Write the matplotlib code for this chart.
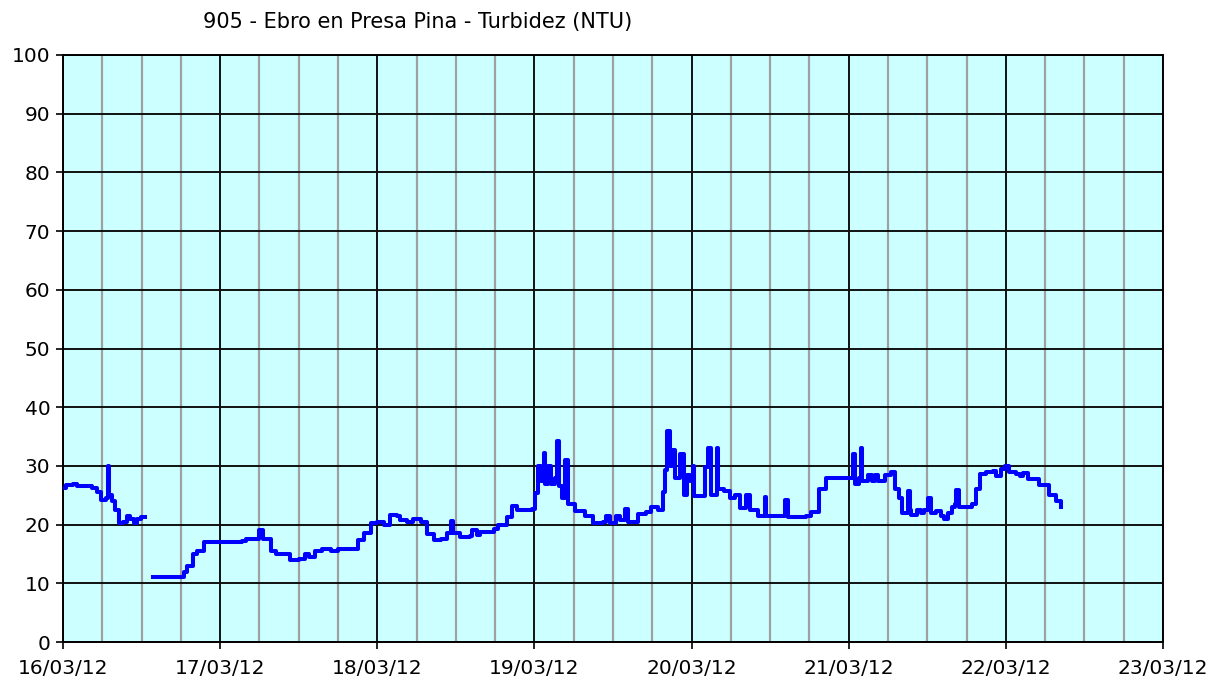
import numpy as np
import pandas as pd
import matplotlib
matplotlib.use("Agg")
import matplotlib.pyplot as plt
import matplotlib.dates as mdates
from matplotlib.ticker import MultipleLocator

title = "905 - Ebro en Presa Pina - Turbidez (NTU)"
start = "2012-03-16"
end = "2012-03-23"

# hours since 16/03/12 00:00 and turbidity (NTU); NaN marks the data gap
hours = [0, 0.5, 1.5, 2.2, 3.5, 4.5, 5.2, 5.8, 6.5, 6.8, 7.0, 7.5, 8.0, 8.5, 9.2, 9.8, 10.3, 10.8, 11.3, 11.9,
         12.5,
         13.7, 18, 18.5, 19, 19.8, 20.5, 21.5, 27.4, 28, 29, 29.9, 30.5, 31.7, 32.5, 34.7, 36, 37, 37.5, 38.5,
         39.5, 40.9, 42, 44, 45, 46, 47, 48, 49, 50, 51, 51.5, 52.5, 53.5, 54.6, 55.6, 56.6, 57.7, 58.7, 59.3,
         59.6, 60.7, 62.2, 62.5, 63.2, 63.7, 65.8, 66.5, 67.3, 67.8, 68.6, 69.3, 71.3, 71.6, 72.1, 72.6, 73.0,
         73.4, 73.6, 74.1, 74.6, 75.1, 75.4, 75.7, 76.2, 76.6, 77.2, 78.2, 79.7, 81, 82.5, 83, 83.5, 84.5, 85,
         85.8, 86.3, 87.8, 89, 89.8, 90.8, 91.6, 92, 92.3, 92.7, 93, 93.5, 94.3, 94.8, 95.3, 95.8, 96.2, 96.4,
         97.6, 98.1, 98.5, 98.9, 99.9, 100.1, 100.9, 101.9, 102.7, 103.4, 104.3, 104.9, 106.2, 107.2, 107.4,
         109.5, 110.3, 110.7, 113.5, 114.2, 115.5, 116.6, 120.1, 120.6, 120.9, 121.5, 121.8, 122, 122.9, 123.5,
         124, 124.5, 125.6, 126.5, 127, 127.7, 128.2, 129, 129.3, 129.5, 130.5, 131, 131.5, 132.1, 132.6, 133.4,
         134.1, 134.6, 135.1, 135.7, 136.2, 136.4, 136.9, 138.9, 139.4, 140, 141, 142, 142.5, 143.3, 143.8,
         144.5, 145.6, 146.2, 146.6, 147.4, 149.1, 150.1, 150.6, 151.6, 152.4]
ntu = [26.3, 26.8, 27, 26.5, 26.6, 26.2, 25.5, 24.2, 24.5, 30, 25, 24, 22.5, 20.3, 20.5, 21.5, 21, 20.2, 21, 21.3,
       np.nan,
       11, 11, 12, 13, 15, 15.5, 17, 17.2, 17.5, 17.5, 19, 17.5, 15.5, 15, 14, 14.2, 15, 14.5, 15.5,
       15.8, 15.5, 15.8, 15.8, 17.3, 18.5, 20.2, 20.5, 20, 21.6, 21.5, 20.7, 20.5, 21, 20.5, 18.4, 17.3, 17.5, 18.5, 20.6,
       18.5, 17.9, 18, 19, 18.2, 18.8, 19.3, 20, 20, 21.3, 23.2, 22.5, 22.5, 22.7, 25.3, 30, 27.5,
       32.2, 27, 30, 27, 28, 34.3, 26.5, 24.5, 31, 23.5, 22.3, 21.5, 20.2, 20.5, 21.5, 20.3, 21.5, 20.7,
       22.7, 20.5, 21.8, 22.2, 23, 22.5, 25.6, 29.3, 36, 30, 32.7, 28, 32, 25, 28.5, 27.5, 30, 24.8,
       24.8, 29.8, 33, 25, 33, 26, 25.8, 24.5, 25, 22.8, 25, 22.5, 21.5, 24.7, 21.5,
       21.5, 24.2, 21.3, 21.5, 22.2, 26, 28, 28, 32, 27, 28, 33, 27.5, 28.5, 27.5,
       28.5, 27.5, 28.5, 28.9, 26, 24.5, 22, 25.7, 22.5, 21.7, 22.5, 22, 22.5, 24.6, 22, 22.3,
       21.5, 21, 22, 23, 23.5, 25.9, 23, 23.5, 26, 28.6, 29, 29.2, 28.3, 29.5, 30,
       29, 28.7, 28.2, 28.8, 27.7, 26.8, 26.8, 25, 24, 23]

times = pd.Timestamp(start) + pd.to_timedelta(hours, unit="h")

W, H = 1221, 682
fig = plt.figure(figsize=(W / 100, H / 100), dpi=100)
ax = fig.add_axes([63 / W, (H - 642) / H, 1100 / W, 587 / H])
ax.set_facecolor("#CCFFFF")

ax.plot(times, ntu, color="#0000FF", linewidth=2.9, drawstyle="steps-post", zorder=3)

ax.set_xlim(pd.Timestamp(start), pd.Timestamp(end))
ax.set_ylim(0, 100)
ax.yaxis.set_major_locator(MultipleLocator(10))
ax.xaxis.set_major_locator(mdates.DayLocator())
ax.xaxis.set_minor_locator(mdates.HourLocator(byhour=[6, 12, 18]))
ax.xaxis.set_major_formatter(mdates.DateFormatter("%d/%m/%y"))

ax.grid(which="major", axis="both", color="#101010", linewidth=1.4, zorder=1)
ax.grid(which="minor", axis="x", color="#A0A0A0", linewidth=1.6, zorder=0)
ax.set_axisbelow(True)

for s in ax.spines.values():
    s.set_color("#000000")
    s.set_linewidth(1.4)

ax.tick_params(axis="both", which="major", direction="out", length=5, width=1.2,
               labelsize=14.5, colors="#000000")
ax.tick_params(axis="x", which="minor", length=0)
ax.tick_params(axis="x", which="major", pad=7)
ax.tick_params(axis="y", which="major", pad=4)

fig.text(418 / W, 1 - 22 / H, title, ha="center", va="center", fontsize=15, color="#000000")

fig.savefig("out.png", dpi=100, facecolor="white")
